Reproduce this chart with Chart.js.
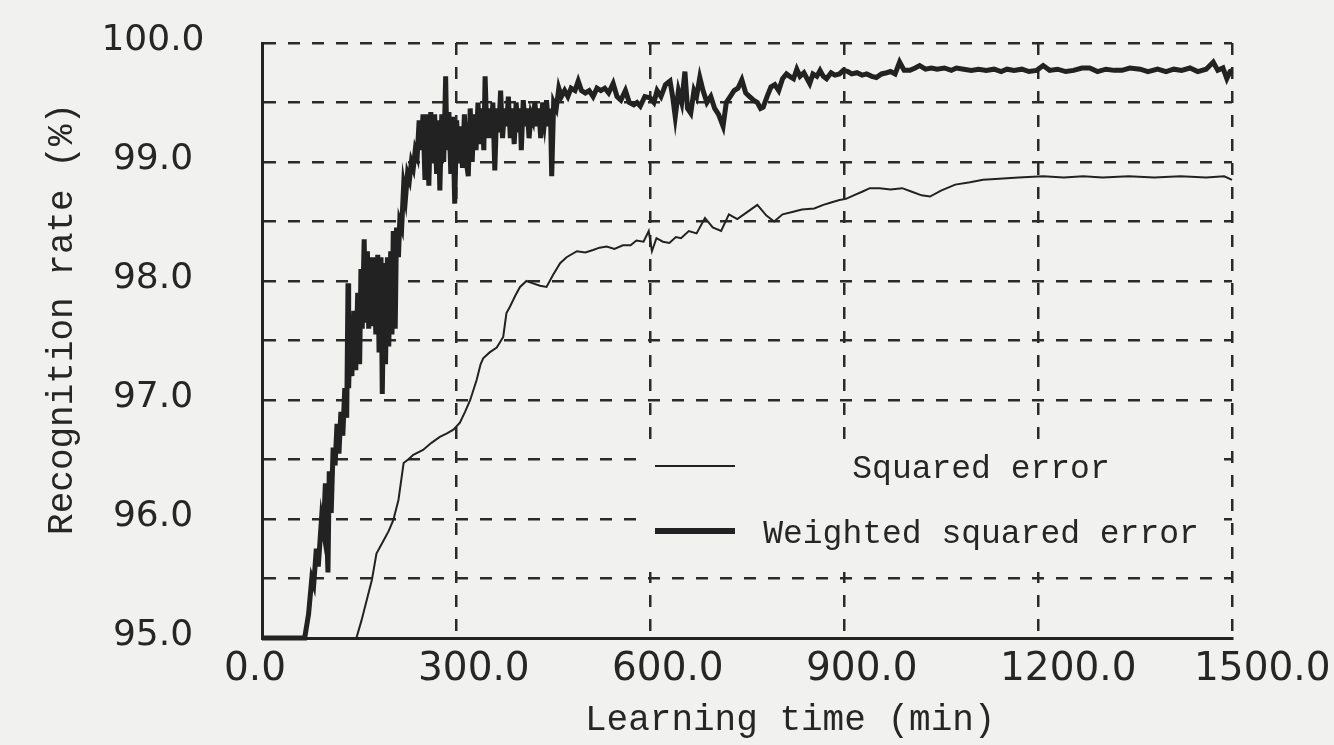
<!DOCTYPE html>
<html>
<head>
<meta charset="utf-8">
<script src="https://cdn.jsdelivr.net/npm/chart.js@4.4.1/dist/chart.umd.min.js"></script>
<style>
  html, body { margin: 0; padding: 0; background: #f1f1ef; }
  #wrap { width: 1334px; height: 745px; }
</style>
</head>
<body>
<div id="wrap"><canvas id="c" width="1334" height="745"></canvas></div>
<script>
// ---- data ----
const xTickValues = [0, 300, 600, 900, 1200, 1500];
const seriesNames = ['Squared error', 'Weighted squared error'];

const squaredTime = [0,146,154,162,170,177,188,196,203,211,
  219,226,234,249,262,275,286,296,306,314,
  322,332,338,342,352,363,373,378,383,392,
  399,409,419,430,440,450,461,471,487,500,
  512,522,533,545,558,570,579,590,598,603,
  610,620,630,640,648,660,672,685,697,710,
  722,735,748,766,780,792,805,820,835,854,
  868,880,893,903,915,928,940,955,972,990,
  1005,1020,1033,1050,1072,1095,1115,1140,1170,1208,
  1240,1270,1300,1340,1380,1420,1460,1488,1500];
const squaredRate = [95.0,95.0,95.15,95.32,95.49,95.71,95.82,95.9,95.99,96.16,
  96.47,96.5,96.54,96.58,96.64,96.69,96.72,96.75,96.81,96.9,
  97.0,97.17,97.3,97.35,97.4,97.44,97.53,97.73,97.78,97.88,
  97.95,98.0,97.98,97.96,97.95,98.05,98.15,98.2,98.25,98.24,
  98.26,98.28,98.29,98.27,98.3,98.3,98.34,98.33,98.42,98.25,
  98.36,98.33,98.32,98.37,98.36,98.42,98.4,98.53,98.45,98.42,
  98.56,98.52,98.57,98.64,98.55,98.5,98.56,98.58,98.6,98.61,
  98.64,98.66,98.68,98.69,98.72,98.75,98.78,98.78,98.77,98.78,
  98.75,98.72,98.71,98.76,98.81,98.83,98.85,98.86,98.87,98.88,
  98.87,98.88,98.87,98.88,98.87,98.88,98.87,98.88,98.85];

const weightedTime = [0,66,72,77,80,84,87,92,95,98,
  102,104,107,110,113,116,119,122,125,128,
  131,133,134,136,139,142,145,148,151,153,
  155,158,160,163,165,168,170,173,176,179,
  181,184,186,189,191,194,196,199,201,203,
  206,208,211,213,216,219,222,225,228,231,
  234,237,240,243,246,249,252,255,258,261,
  264,267,270,273,275,278,281,284,286,289,
  292,295,298,301,304,307,310,313,316,319,
  322,325,328,331,334,337,340,343,345,348,
  351,354,357,360,363,366,369,372,375,378,
  381,384,387,390,393,396,399,401,404,407,
  410,413,416,419,422,425,428,431,434,437,
  440,443,446,448,451,455,459,463,468,473,
  478,484,489,494,500,506,512,518,524,530,
  536,543,549,555,562,568,575,580,585,592,
  600,606,611,617,624,631,635,639,644,649,
  654,658,663,668,672,677,682,688,694,700,
  706,713,718,724,730,736,742,748,754,760,
  766,771,775,781,787,793,799,805,811,816,
  822,827,832,838,843,847,852,858,863,868,
  873,880,886,893,899,906,912,920,928,935,
  943,950,958,966,972,979,986,993,1002,1010,
  1017,1026,1035,1044,1055,1066,1074,1085,1097,1108,
  1120,1132,1143,1152,1163,1175,1186,1198,1208,1218,
  1230,1243,1255,1268,1280,1292,1305,1318,1330,1342,
  1358,1370,1385,1398,1410,1422,1435,1447,1460,1471,
  1478,1486,1492,1497,1500];
const weightedRate = [95.0,95.0,95.2,95.5,95.45,95.75,95.6,96.0,95.9,96.3,
  95.55,96.4,96.05,96.6,96.45,96.8,96.55,96.9,96.7,97.1,
  96.85,97.98,97.1,97.55,97.2,97.75,97.25,97.9,97.3,98.1,
  97.6,98.35,97.65,98.25,97.6,98.2,97.62,98.2,97.55,98.22,
  97.4,98.2,97.05,98.15,97.3,98.2,97.45,98.25,97.55,98.42,
  97.6,98.45,98.2,98.5,98.45,98.8,98.7,98.9,98.85,99.0,
  98.95,99.1,99.05,99.35,99.1,99.4,98.85,99.4,98.8,99.42,
  99.0,99.4,98.9,99.35,98.76,99.4,99.0,99.72,99.1,99.42,
  98.9,99.38,98.65,99.35,99.0,99.3,98.95,99.4,99.0,98.88,
  99.45,99.0,99.4,99.1,99.5,99.15,99.45,99.1,99.72,99.2,
  99.45,99.2,99.5,98.93,99.45,99.25,99.6,99.2,99.45,99.3,
  99.55,99.2,99.45,99.15,99.5,99.25,99.45,99.1,99.52,99.3,
  99.45,99.2,99.4,99.35,99.5,99.3,99.45,99.2,99.5,99.35,
  99.52,99.3,99.45,98.88,99.5,99.45,99.62,99.55,99.6,99.55,
  99.62,99.6,99.68,99.6,99.58,99.6,99.55,99.62,99.6,99.62,
  99.58,99.66,99.55,99.52,99.6,99.5,99.48,99.5,99.47,99.55,
  99.54,99.5,99.6,99.55,99.65,99.68,99.55,99.38,99.6,99.5,
  99.76,99.45,99.41,99.6,99.55,99.71,99.6,99.5,99.55,99.45,
  99.4,99.3,99.5,99.55,99.6,99.62,99.69,99.58,99.55,99.52,
  99.5,99.45,99.46,99.55,99.63,99.65,99.6,99.7,99.74,99.72,
  99.7,99.78,99.72,99.75,99.7,99.66,99.74,99.72,99.77,99.72,
  99.7,99.75,99.73,99.74,99.77,99.76,99.74,99.75,99.73,99.74,
  99.72,99.71,99.74,99.75,99.76,99.74,99.84,99.77,99.77,99.79,
  99.81,99.78,99.79,99.78,99.79,99.77,99.79,99.78,99.77,99.78,
  99.77,99.78,99.76,99.78,99.77,99.78,99.76,99.77,99.81,99.77,
  99.78,99.76,99.77,99.79,99.79,99.76,99.78,99.77,99.77,99.79,
  99.78,99.76,99.78,99.76,99.78,99.77,99.79,99.76,99.78,99.84,
  99.77,99.79,99.7,99.76,99.77];

// ---- styles ----
const INK = '#222222';
const TEXT = '#262626';
const BG = '#f1f1ef';
const toPoints = (xs, ys) => xs.map((x, i) => ({ x: x, y: ys[i] }));

const insetLegend = {
  id: 'insetLegend',
  afterDatasetsDraw(chart) {
    const ctx = chart.ctx;
    const a = chart.chartArea;
    ctx.save();
    ctx.fillStyle = BG;
    ctx.fillRect(a.left + 378, 446, 582, 126);
    const rows = [466, 531];
    chart.data.datasets.forEach((ds, i) => {
      const y = rows[i];
      ctx.strokeStyle = INK;
      ctx.lineWidth = ds.legendWidth;
      ctx.beginPath();
      ctx.moveTo(a.left + 393, y);
      ctx.lineTo(a.left + 473, y);
      ctx.stroke();
      ctx.fillStyle = TEXT;
      ctx.font = '33px "Liberation Mono"';
      ctx.textAlign = 'center';
      ctx.textBaseline = 'middle';
      ctx.fillText(ds.label, a.left + 719, y + 3);
    });
    ctx.restore();
  }
};

new Chart(document.getElementById('c'), {
  type: 'line',
  data: {
    datasets: [
      {
        label: seriesNames[0],
        data: toPoints(squaredTime, squaredRate),
        borderColor: INK, borderWidth: 2, legendWidth: 2,
        pointRadius: 0, tension: 0, clip: 6, order: 2
      },
      {
        label: seriesNames[1],
        data: toPoints(weightedTime, weightedRate),
        borderColor: INK, borderWidth: 5, legendWidth: 6,
        pointRadius: 0, tension: 0, clip: 6, order: 1
      }
    ]
  },
  options: {
    responsive: false,
    animation: false,
    devicePixelRatio: 1,
    layout: { padding: { top: 43, right: 102, bottom: 0, left: 0 } },
    plugins: { legend: { display: false }, tooltip: { enabled: false } },
    scales: {
      x: {
        type: 'linear', min: 0, max: 1500,
        afterBuildTicks: s => { s.ticks = xTickValues.map(v => ({ value: v })); },
        afterFit: s => { s.height = 107; s.paddingLeft = 0; s.paddingRight = 0; },
        ticks: {
          callback: v => Number(v).toFixed(1),
          align: 'start', labelOffset: -38, padding: 8,
          autoSkip: false, maxRotation: 0,
          color: TEXT,
          font: { family: 'DejaVu Sans', size: 39 }
        },
        grid: { color: '#2a2a2a', lineWidth: 2.5, drawTicks: false },
        border: { display: true, color: '#222', width: 3, dash: [12, 12] },
        title: {
          display: true, text: '    Learning time (min)',
          color: TEXT,
          font: { family: 'Liberation Mono', size: 36 },
          padding: { top: 0, bottom: 3 }
        }
      },
      y: {
        min: 95, max: 100,
        afterFit: s => { s.width = 262; s.paddingTop = 0; s.paddingBottom = 0; },
        ticks: {
          stepSize: 0.5,
          callback: v => (Math.abs(v - Math.round(v)) < 1e-6 ? Number(v).toFixed(1) : ''),
          crossAlign: 'center', padding: 57.5, labelOffset: -2,
          autoSkip: false,
          color: TEXT,
          font: { family: 'DejaVu Sans', size: 36 }
        },
        grid: { color: '#2a2a2a', lineWidth: 2.5, drawTicks: false },
        border: { display: true, color: '#222', width: 3, dash: [12, 12] },
        title: {
          display: true, text: '  Recognition rate (%)',
          color: TEXT,
          font: { family: 'Liberation Mono', size: 36 },
          padding: { top: 41, bottom: 0 }
        }
      }
    }
  },
  plugins: [insetLegend]
});
</script>
</body>
</html>
